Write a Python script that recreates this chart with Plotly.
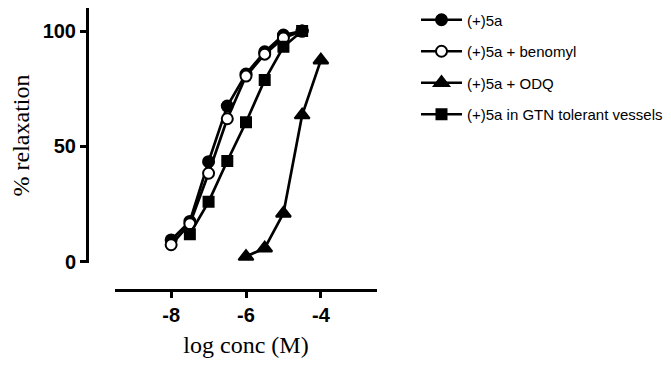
import plotly.graph_objects as go

W, H = 671, 365
OFF = 8  # page body margin

x_main = [-8, -7.5, -7, -6.5, -6, -5.5, -5, -4.5]
y_5a = [9.5, 17.5, 43.4, 67.5, 81.4, 91, 98.3, 100]
y_benomyl = [7.4, 16.5, 38.4, 62, 80.5, 90, 97, 100]
x_odq = [-6, -5.5, -5, -4.5, -4]
y_odq = [2.3, 5.9, 21, 63.6, 87.4]
x_gtn = [-7.5, -7, -6.5, -6, -5.5, -5, -4.5]
y_gtn = [12, 26, 43.7, 60.5, 78.8, 93.2, 100]

names = ["(+)5a", "(+)5a + benomyl", "(+)5a + ODQ", "(+)5a in GTN tolerant vessels"]
x_ticks = [-8, -6, -4]
y_ticks = [0, 50, 100]

fig = go.Figure()
specs = [
    (x_main, y_5a, "circle", "black", 11),
    (x_main, y_benomyl, "circle", "white", 11),
    (x_odq, y_odq, "triangle-up", "black", 13),
    (x_gtn, y_gtn, "square", "black", 10),
]
for i, (xs, ys, sym, fill, sz) in enumerate(specs):
    fig.add_trace(go.Scatter(
        x=xs, y=ys, mode="lines+markers", name=names[i],
        line=dict(color="black", width=2.7),
        marker=dict(symbol=sym, size=sz, color=fill, line=dict(color="black", width=2)),
        legendgroup=str(i), cliponaxis=False,
    ))

fig.update_layout(
    width=W, height=H, margin=dict(l=0, r=0, t=0, b=0, autoexpand=False),
    paper_bgcolor="white", plot_bgcolor="white",
    xaxis=dict(
        domain=[(115 - OFF) / W, (377 - OFF) / W], range=[-9.5, -2.5], anchor="free",
        position=1 - (290 - OFF) / H,
        automargin=False,
        showgrid=False, zeroline=False, showline=True, linecolor="black", linewidth=3,
        tickvals=x_ticks, ticktext=[str(v) for v in x_ticks], ticks="outside", ticklen=6, tickwidth=3,
        tickcolor="black",
        tickfont=dict(family="Liberation Sans", size=20, color="black", weight="bold"),
        title=dict(text="log conc (M)", font=dict(family="Liberation Serif", size=24, color="black"), standoff=11),
    ),
    yaxis=dict(
        domain=[1 - (263 - OFF) / H, 1 - (8 - OFF) / H], range=[-0.5, 110], anchor="free",
        position=(87 - OFF) / W,
        automargin=False,
        showgrid=False, zeroline=False, showline=True, linecolor="black", linewidth=3,
        tickvals=y_ticks, ticktext=[str(v) for v in y_ticks], ticks="outside", ticklen=6, tickwidth=3,
        tickcolor="black",
        tickfont=dict(family="Liberation Sans", size=20, color="black", weight="bold"),
        title=dict(text="% relaxation", font=dict(family="Liberation Serif", size=24, color="black"), standoff=6),
    ),
    legend=dict(
        x=(416 - OFF) / W, y=1 + 4.5 / H, xanchor="left", yanchor="top",
        font=dict(family="Liberation Sans", size=15, color="black"),
        itemwidth=41, tracegroupgap=9, bgcolor="rgba(0,0,0,0)",
    ),
    showlegend=True,
)

fig.write_html("out.html")
